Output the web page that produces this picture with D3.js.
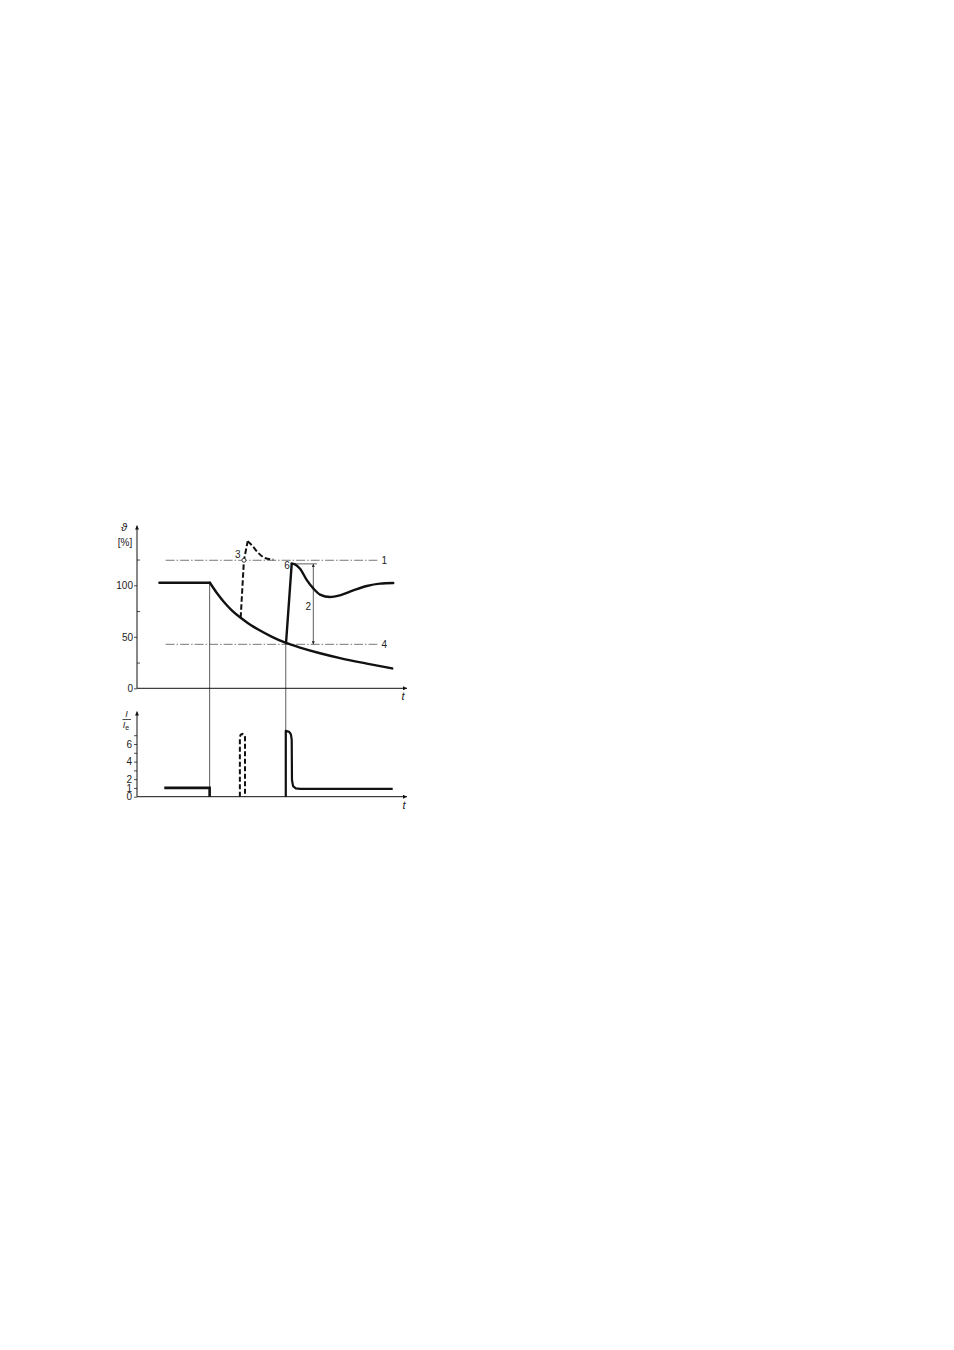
<!DOCTYPE html>
<html lang="en">
<head>
  <meta charset="UTF-8">
  <title>Temperature and current over time</title>
  <script src="https://d3js.org/d3.v7.min.js"></script>
  <style>
    body { margin: 0; background: #fff; }
    svg text { font-family: "Liberation Sans", Arial, "DejaVu Sans", sans-serif; fill: #222; }
  </style>
</head>
<body>
  <div id="chart"></div>

  <script>
    // Data (t in arbitrary units 0..100)
    const thetaFlat = [[8.3,102.5],[27,102.5]];
    const thetaDecay = [[27,102.5],[30,91],[32.6,82.5],[35,76],[38.4,68.5],[41,63.5],[44.9,57],[50,50],
                        [55.2,44],[60.4,39.5],[67.8,34],[75.2,29.3],[85.1,24],[94.5,19.3]];
    const theta3Rise = [[38.4,68.5],[39.6,124.3],[41,142.7]];
    const theta3Fall = [[41,142.7],[42.5,139],[44.9,131.4],[47.4,126.5],[50.5,125]];
    const theta6Rise = [[55.2,44],[57.3,121]];
    const theta6Fall = [[57.3,121],[58.5,120.4],[60.4,116],[62.9,105],[65.3,97],[67.8,91],[71.5,88.6],
                        [75.2,90.3],[80.1,95],[85.1,99.3],[90,101.6],[94.9,102.2]];
    const refLevels = [{ v: 124.3, label: "1" }, { v: 42.7, label: "4" }];
    const rangeMark = { t: 65.3, from: 120.8, to: 42.7, label: "2" };
    const switchTimes = [26.9, 55.1];

    const currentBase = [[10.1,1],[26.9,1],[26.9,0]];
    const current3 = [[38.1,0],[38.1,6.8],[38.4,7.05],[39.05,7.15],[39.7,7.05],[40,6.8],[40,0]];
    const current6 = [[55.1,0],[55.1,7.5],[56.3,7.4],[57,7.1],[57.3,6.5],[57.4,1.9],[57.8,1.2],[58.8,0.95],[60.5,0.9],[94.7,0.9]];

    const topTickLabels = [0, 50, 100];
    const topMinorTicks = [25, 75, 125];
    const botTickLabels = [0, 1, 2, 4, 6];
    const botMinorTicks = [3, 5, 7];

    const W = 954, H = 1350;
    const svg = d3.select("#chart").append("svg")
      .attr("width", W).attr("height", H);

    const x = d3.scaleLinear().domain([0, 100]).range([137, 407]);
    const yTop = d3.scaleLinear().domain([0, 100]).range([688.3, 585.3]);
    const yBot = d3.scaleLinear().domain([0, 6]).range([796.7, 744]);

    // arrow markers
    const defs = svg.append("defs");
    defs.append("marker")
      .attr("id", "arrow").attr("viewBox", "0 0 10 10")
      .attr("refX", 10).attr("refY", 5)
      .attr("markerWidth", 7).attr("markerHeight", 4)
      .attr("markerUnits", "userSpaceOnUse")
      .attr("orient", "auto-start-reverse")
      .append("path").attr("d", "M0,0 L10,5 L0,10 z").attr("fill", "#111");
    defs.append("marker")
      .attr("id", "arrowSmall").attr("viewBox", "0 0 10 10")
      .attr("refX", 10).attr("refY", 5)
      .attr("markerWidth", 5).attr("markerHeight", 3)
      .attr("markerUnits", "userSpaceOnUse")
      .attr("orient", "auto-start-reverse")
      .append("path").attr("d", "M0,0 L10,5 L0,10 z").attr("fill", "#222");

    const line = (ys) => d3.line().x(d => x(d[0])).y(d => ys(d[1])).curve(d3.curveMonotoneX);
    const lineLin = (ys) => d3.line().x(d => x(d[0])).y(d => ys(d[1]));

    // thin vertical switching lines
    svg.append("line")
      .attr("x1", x(switchTimes[0])).attr("x2", x(switchTimes[0]))
      .attr("y1", yTop(102.5)).attr("y2", yBot(0))
      .attr("stroke", "#333").attr("stroke-width", 0.8);
    svg.append("line")
      .attr("x1", x(switchTimes[1])).attr("x2", x(switchTimes[1]))
      .attr("y1", yTop(44)).attr("y2", yBot(0))
      .attr("stroke", "#333").attr("stroke-width", 0.8);

    // ---- top chart: temperature ----
    const axisL = d3.axisLeft(yTop).tickValues(topTickLabels).tickSize(3).tickPadding(1);
    const gy = svg.append("g").attr("transform", `translate(${x(0)},0)`).call(axisL);
    const axisMinor = d3.axisRight(yTop).tickValues(topMinorTicks).tickSize(3).tickFormat("");
    const gym = svg.append("g").attr("transform", `translate(${x(0)},0)`).call(axisMinor);
    [gy, gym].forEach(g => {
      g.select(".domain").remove();
      g.selectAll("line").attr("stroke", "#222").attr("stroke-width", 0.8);
      g.selectAll("text").attr("font-size", 10).attr("fill", "#222");
    });
    svg.append("line")
      .attr("x1", x(0)).attr("x2", x(0)).attr("y1", yTop(0)).attr("y2", yTop(158))
      .attr("stroke", "#111").attr("stroke-width", 1).attr("marker-end", "url(#arrow)");
    svg.append("line")
      .attr("x1", x(0)).attr("x2", x(100)).attr("y1", yTop(0)).attr("y2", yTop(0))
      .attr("stroke", "#111").attr("stroke-width", 1).attr("marker-end", "url(#arrow)");
    svg.append("text").attr("x", x(98.5)).attr("y", yTop(0) + 12)
      .attr("font-size", 11).attr("font-style", "italic").attr("text-anchor", "middle").text("t");
    svg.append("text").attr("x", 124).attr("y", 531)
      .attr("font-size", 11).attr("font-style", "italic").attr("text-anchor", "middle").text("ϑ");
    svg.append("text").attr("x", 125).attr("y", 546)
      .attr("font-size", 10).attr("text-anchor", "middle").text("[%]");

    // reference dash-dot lines
    refLevels.forEach(r => {
      svg.append("line")
        .attr("x1", x(10.6)).attr("x2", x(89)).attr("y1", yTop(r.v)).attr("y2", yTop(r.v))
        .attr("stroke", "#555").attr("stroke-width", 0.8)
        .attr("stroke-dasharray", "9,2,1.5,2");
      svg.append("text").attr("x", x(91.6)).attr("y", yTop(r.v) + 3.5)
        .attr("font-size", 10).attr("text-anchor", "middle").text(r.label);
    });

    // range arrow "2"
    svg.append("line")
      .attr("x1", x(57.3)).attr("x2", x(66.6)).attr("y1", yTop(rangeMark.from)).attr("y2", yTop(rangeMark.from))
      .attr("stroke", "#333").attr("stroke-width", 0.8);
    svg.append("line")
      .attr("x1", x(rangeMark.t)).attr("x2", x(rangeMark.t))
      .attr("y1", yTop(rangeMark.from)).attr("y2", yTop(rangeMark.to))
      .attr("stroke", "#333").attr("stroke-width", 0.8)
      .attr("marker-start", "url(#arrowSmall)").attr("marker-end", "url(#arrowSmall)");
    svg.append("text").attr("x", x(63.4)).attr("y", yTop(79.6) + 3.5)
      .attr("font-size", 10).attr("text-anchor", "middle").text(rangeMark.label);

    // curves
    const solid = (data, gen) => svg.append("path").datum(data).attr("d", gen)
      .attr("fill", "none").attr("stroke", "#111").attr("stroke-width", 2.4)
      .attr("stroke-linejoin", "round").attr("stroke-linecap", "round");
    const dashed = (data, gen) => svg.append("path").datum(data).attr("d", gen)
      .attr("fill", "none").attr("stroke", "#111").attr("stroke-width", 2)
      .attr("stroke-dasharray", "5.5,2.5");

    solid(thetaFlat, lineLin(yTop));
    solid(thetaDecay, line(yTop));
    dashed(theta3Rise, lineLin(yTop));
    dashed(theta3Fall, line(yTop));
    solid(theta6Rise, lineLin(yTop));
    solid(theta6Fall, line(yTop));

    svg.append("circle").attr("cx", x(39.6)).attr("cy", yTop(124.3)).attr("r", 2)
      .attr("fill", "#fff").attr("stroke", "#111").attr("stroke-width", 0.8);
    svg.append("text").attr("x", x(37.3)).attr("y", yTop(130) + 3.5)
      .attr("font-size", 10).attr("text-anchor", "middle").text("3");
    svg.append("text").attr("x", x(55.6)).attr("y", yTop(119) + 3.5)
      .attr("font-size", 10).attr("text-anchor", "middle").text("6");

    // ---- bottom chart: current ----
    const axisB = d3.axisLeft(yBot).tickValues(botTickLabels).tickSize(3).tickPadding(2).tickFormat(d3.format("d"));
    const gb = svg.append("g").attr("transform", `translate(${x(0)},0)`).call(axisB);
    const axisBm = d3.axisLeft(yBot).tickValues(botMinorTicks).tickSize(3).tickFormat("");
    const gbm = svg.append("g").attr("transform", `translate(${x(0)},0)`).call(axisBm);
    [gb, gbm].forEach(g => {
      g.select(".domain").remove();
      g.selectAll("line").attr("stroke", "#222").attr("stroke-width", 0.8);
      g.selectAll("text").attr("font-size", 10).attr("fill", "#222");
    });
    svg.append("line")
      .attr("x1", x(0)).attr("x2", x(0)).attr("y1", yBot(0)).attr("y2", yBot(9.7))
      .attr("stroke", "#111").attr("stroke-width", 1).attr("marker-end", "url(#arrow)");
    svg.append("line")
      .attr("x1", x(0)).attr("x2", x(100)).attr("y1", yBot(0)).attr("y2", yBot(0))
      .attr("stroke", "#111").attr("stroke-width", 1).attr("marker-end", "url(#arrow)");
    svg.append("text").attr("x", x(98.9)).attr("y", yBot(0) + 12)
      .attr("font-size", 11).attr("font-style", "italic").attr("text-anchor", "middle").text("t");
    svg.append("text").attr("x", 126.5).attr("y", 717)
      .attr("font-size", 9).attr("font-style", "italic").attr("text-anchor", "middle").text("I");
    svg.append("line").attr("x1", 122.5).attr("x2", 131).attr("y1", 719.5).attr("y2", 719.5)
      .attr("stroke", "#222").attr("stroke-width", 0.8);
    const ie = svg.append("text").attr("x", 126).attr("y", 728)
      .attr("font-size", 9).attr("font-style", "italic").attr("text-anchor", "middle");
    ie.append("tspan").text("I");
    ie.append("tspan").attr("font-size", 7).attr("dy", 1.5).attr("font-style", "normal").text("e");

    svg.append("path").datum(currentBase).attr("d", lineLin(yBot))
      .attr("fill", "none").attr("stroke", "#111").attr("stroke-width", 2.6);
    svg.append("path").datum(current3).attr("d", lineLin(yBot))
      .attr("fill", "none").attr("stroke", "#111").attr("stroke-width", 2)
      .attr("stroke-dasharray", "5,2.5");
    svg.append("path").datum(current6).attr("d", lineLin(yBot))
      .attr("fill", "none").attr("stroke", "#111").attr("stroke-width", 2.2)
      .attr("stroke-linejoin", "round");
  </script>
</body>
</html>
